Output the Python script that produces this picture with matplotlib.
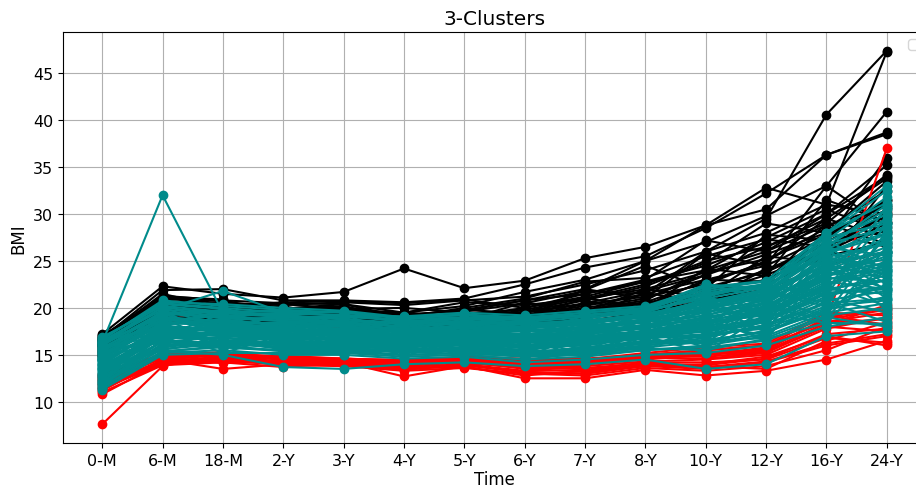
import matplotlib
matplotlib.use("Agg")
import matplotlib.pyplot as plt

time_labels = ["0-M", "6-M", "18-M", "2-Y", "3-Y", "4-Y", "5-Y",
               "6-Y", "7-Y", "8-Y", "10-Y", "12-Y", "16-Y", "24-Y"]

# cluster 1: high BMI trajectories (black)
black_bmi = [
    [16.5, 21.0, 20.5, 20.3, 20.6, 20.3, 20.8, 21.2, 22.5, 24.0, 26.0, 29.5, 40.6, 47.4],
    [17.2, 22.3, 21.5, 21.1, 21.7, 24.2, 22.1, 22.9, 25.3, 26.5, 28.8, 32.8, 31.0, 47.3],
    [16.8, 21.9, 22.0, 20.8, 20.8, 20.6, 21.0, 22.5, 24.3, 25.5, 28.5, 32.2, 36.3, 38.7],
    [17.0, 21.3, 20.8, 20.5, 20.4, 19.5, 20.2, 21.7, 23.0, 25.0, 27.0, 29.8, 33.0, 40.9],
    [16.3, 20.5, 20.2, 20.0, 20.0, 19.2, 19.8, 20.8, 22.0, 25.0, 28.8, 30.5, 36.3, 38.5],
    [15.8, 20.0, 19.6, 19.5, 19.3, 18.8, 19.1, 20.0, 21.5, 22.8, 24.5, 27.0, 30.0, 35.2],
    [16.1, 19.8, 20.5, 19.8, 19.6, 18.5, 19.4, 19.8, 21.0, 22.5, 25.0, 26.5, 29.0, 34.2],
    [15.5, 19.5, 19.8, 19.3, 19.0, 18.3, 18.9, 19.5, 20.5, 21.8, 23.5, 25.7, 28.0, 33.5],
    [16.7, 21.5, 20.0, 19.9, 20.2, 18.8, 19.6, 20.5, 21.8, 21.5, 23.0, 24.5, 27.5, 31.5],
    [15.2, 19.3, 19.0, 18.8, 18.7, 18.2, 18.4, 18.8, 19.6, 20.5, 22.0, 24.0, 27.0, 30.5],
    [16.0, 20.3, 19.4, 19.2, 19.4, 18.6, 18.8, 19.2, 20.0, 21.0, 23.5, 26.5, 29.5, 27.5],
    [14.8, 19.0, 18.8, 18.5, 18.4, 17.8, 18.0, 18.5, 19.2, 20.0, 21.5, 23.5, 26.0, 29.0],
    [16.4, 20.8, 20.3, 19.6, 19.8, 19.0, 19.3, 19.5, 20.4, 21.2, 22.5, 25.0, 28.5, 32.5],
    [15.6, 19.7, 19.2, 19.0, 18.9, 18.0, 18.6, 19.0, 19.8, 20.8, 24.0, 27.5, 30.5, 28.0],
    [17.1, 20.6, 19.9, 19.4, 19.5, 18.4, 19.0, 19.3, 20.2, 21.5, 26.0, 28.0, 31.0, 30.0],
    [15.0, 18.8, 18.5, 18.3, 18.2, 17.6, 17.9, 18.2, 19.0, 19.8, 21.0, 22.5, 25.5, 27.0],
    [16.6, 20.1, 19.5, 19.7, 19.8, 19.5, 20.6, 20.3, 21.0, 22.0, 23.8, 25.2, 27.8, 31.0],
    [15.9, 19.4, 19.1, 18.9, 19.1, 18.1, 18.5, 19.1, 19.8, 20.6, 22.8, 24.8, 29.5, 33.8],
    [16.9, 21.1, 20.7, 19.9, 20.4, 19.0, 20.0, 21.0, 22.8, 23.2, 25.5, 27.3, 26.5, 29.8],
    [15.4, 19.1, 18.7, 18.6, 18.6, 17.9, 18.3, 18.6, 19.4, 20.2, 22.2, 23.8, 26.8, 28.2],
    [16.2, 19.9, 19.7, 19.6, 19.3, 18.7, 18.9, 19.6, 20.8, 22.3, 24.8, 29.0, 28.0, 26.5],
    [14.6, 18.5, 18.3, 18.1, 18.0, 17.5, 17.7, 17.9, 18.6, 19.5, 20.8, 22.0, 24.5, 26.0],
    [16.0, 20.2, 19.9, 19.8, 20.0, 19.3, 19.7, 20.8, 21.5, 23.0, 27.2, 26.0, 30.0, 34.0],
    [15.3, 18.9, 18.9, 18.7, 18.5, 17.7, 18.1, 18.4, 19.0, 19.7, 21.8, 23.0, 26.2, 31.5],
    [16.5, 20.4, 20.1, 20.6, 20.7, 20.5, 20.9, 20.0, 21.2, 22.8, 24.0, 26.0, 28.8, 30.8],
    [15.7, 19.2, 20.4, 19.1, 19.5, 18.9, 18.2, 19.0, 21.0, 20.2, 23.0, 22.8, 29.0, 26.8],
    [16.8, 20.9, 19.3, 20.2, 18.8, 19.6, 18.7, 20.6, 19.6, 22.0, 21.2, 25.5, 24.8, 33.0],
    [15.1, 19.6, 18.6, 19.4, 19.2, 18.2, 19.4, 18.2, 20.6, 19.9, 24.2, 23.4, 31.5, 29.2],
    [16.3, 21.2, 20.9, 19.0, 20.1, 18.4, 19.8, 19.4, 21.9, 24.5, 22.0, 27.8, 27.2, 36.0],
    [14.9, 18.7, 19.3, 18.4, 18.9, 17.9, 18.7, 19.8, 19.1, 21.6, 20.6, 24.2, 26.0, 30.2],
    [16.6, 20.7, 20.0, 20.4, 19.9, 20.0, 19.5, 18.9, 22.0, 21.0, 25.8, 24.5, 33.0, 28.6],
]

# cluster 2: low BMI trajectories (red)
red_bmi = [
    [7.6, 13.8, 15.0, 14.5, 14.3, 14.0, 14.2, 14.0, 14.0, 14.5, 15.0, 15.8, 18.7, 37.0],
    [10.8, 14.2, 14.8, 14.6, 14.5, 13.8, 14.3, 13.5, 13.2, 13.8, 13.5, 14.2, 16.0, 17.0],
    [11.2, 14.5, 13.5, 14.0, 14.2, 12.7, 13.8, 12.5, 12.5, 13.4, 12.8, 13.3, 14.5, 16.5],
    [12.0, 14.8, 15.1, 14.8, 14.6, 14.4, 14.7, 14.3, 14.5, 15.0, 15.5, 16.0, 18.5, 19.5],
    [11.5, 14.0, 14.5, 14.2, 14.0, 13.5, 13.9, 13.2, 13.0, 13.8, 14.0, 14.8, 17.0, 16.0],
    [12.5, 15.0, 15.2, 14.7, 14.4, 14.2, 14.8, 14.5, 14.4, 14.8, 15.3, 15.5, 19.0, 20.0],
    [11.8, 14.3, 14.6, 13.9, 13.8, 13.3, 13.6, 13.0, 12.8, 13.6, 13.3, 13.8, 15.5, 18.0],
    [12.8, 14.9, 14.9, 14.5, 14.6, 14.3, 14.5, 14.1, 14.2, 14.9, 14.8, 15.3, 18.0, 17.5],
    [11.0, 13.9, 14.2, 13.7, 14.1, 13.6, 13.7, 12.8, 13.3, 14.0, 13.8, 13.5, 16.5, 18.5],
    [12.2, 14.6, 14.4, 14.3, 14.3, 14.1, 14.4, 13.8, 13.8, 14.3, 14.5, 15.0, 17.8, 19.0],
    [13.0, 15.0, 15.3, 14.6, 14.5, 14.5, 14.6, 14.4, 14.6, 15.0, 15.5, 16.0, 19.2, 18.2],
    [11.4, 14.1, 14.3, 14.0, 13.9, 13.7, 14.0, 13.3, 13.4, 14.2, 14.2, 14.5, 16.8, 16.3],
    [12.6, 14.7, 15.0, 14.8, 14.4, 14.0, 14.1, 13.7, 14.0, 14.6, 15.1, 15.6, 18.8, 19.8],
    [11.9, 14.4, 14.7, 14.1, 13.9, 13.9, 14.2, 13.6, 13.6, 14.1, 13.9, 14.6, 17.2, 17.8],
    [12.3, 14.8, 14.1, 14.4, 14.2, 13.8, 14.4, 13.9, 14.1, 14.7, 14.6, 15.2, 18.2, 20.3],
    [12.9, 15.1, 15.0, 14.9, 14.6, 14.4, 14.8, 14.6, 14.5, 15.2, 15.8, 16.2, 19.5, 19.2],
    [11.6, 14.2, 14.8, 14.3, 14.0, 13.4, 13.9, 13.1, 13.0, 13.9, 13.7, 14.3, 16.2, 17.2],
    [12.4, 14.6, 14.9, 14.6, 14.3, 14.2, 14.5, 14.2, 14.3, 14.8, 15.0, 15.4, 18.4, 18.8],
]

# cluster 3: middle BMI trajectories (teal)
teal_bmi = [
    [16.3, 32.0, 19.5, 19.0, 18.5, 17.5, 18.0, 17.8, 18.5, 19.2, 20.5, 22.0, 24.5, 26.0],
    [14.5, 19.8, 21.8, 19.5, 18.0, 17.0, 17.5, 17.2, 17.8, 18.5, 22.5, 21.0, 23.5, 25.5],
    [13.5, 15.5, 15.0, 13.7, 13.5, 14.0, 14.2, 13.8, 14.0, 14.5, 13.5, 14.0, 17.0, 17.5],
    [12.0, 16.0, 16.2, 15.8, 15.5, 15.0, 15.2, 14.8, 15.0, 15.5, 16.0, 17.0, 19.5, 20.5],
    [15.5, 19.0, 18.5, 18.2, 18.0, 17.5, 17.8, 17.5, 18.0, 18.8, 20.0, 21.5, 25.0, 27.0],
    [13.0, 17.5, 17.0, 16.8, 16.5, 16.0, 16.2, 15.8, 16.0, 16.8, 17.5, 18.5, 21.5, 22.0],
    [16.8, 20.5, 20.0, 19.5, 19.2, 18.5, 18.8, 18.5, 19.0, 19.5, 21.5, 22.5, 27.5, 29.0],
    [11.5, 15.2, 15.5, 15.0, 15.0, 14.6, 14.8, 14.2, 14.5, 15.0, 15.2, 16.0, 18.0, 19.0],
    [14.0, 18.0, 17.5, 17.2, 17.0, 16.5, 16.8, 16.5, 17.2, 17.8, 19.0, 20.0, 23.0, 24.5],
    [15.0, 17.2, 18.0, 17.5, 17.8, 17.0, 17.3, 16.8, 16.5, 17.0, 18.0, 19.5, 22.0, 23.0],
    [12.5, 16.5, 16.0, 16.5, 16.0, 15.5, 15.8, 15.2, 15.5, 16.2, 17.0, 18.0, 20.5, 21.0],
    [16.0, 19.5, 19.0, 18.8, 18.5, 18.0, 18.3, 18.0, 18.5, 19.0, 20.5, 21.8, 26.0, 28.0],
    [13.5, 17.0, 16.8, 16.2, 16.2, 15.8, 16.5, 16.0, 16.8, 17.5, 18.5, 19.2, 22.5, 25.0],
    [14.8, 18.5, 18.0, 17.8, 17.5, 17.2, 17.0, 17.0, 17.5, 18.2, 19.5, 20.8, 24.0, 26.5],
    [11.8, 15.8, 16.5, 16.0, 15.8, 15.2, 15.5, 15.0, 15.8, 16.5, 16.5, 17.5, 20.0, 22.5],
    [16.5, 20.0, 19.5, 19.8, 19.5, 19.0, 19.2, 18.8, 19.5, 20.0, 22.0, 22.8, 26.5, 31.0],
    [13.2, 16.8, 17.2, 17.0, 16.8, 16.2, 16.0, 15.5, 16.2, 17.2, 18.2, 19.8, 23.5, 24.0],
    [15.2, 18.2, 18.8, 18.0, 17.2, 16.8, 17.5, 17.2, 17.8, 18.5, 19.8, 21.2, 25.5, 23.5],
    [12.2, 16.2, 15.8, 15.5, 16.2, 15.5, 15.0, 14.5, 15.2, 16.0, 16.8, 18.2, 21.0, 19.5],
    [14.2, 17.8, 17.8, 17.5, 17.2, 16.8, 17.0, 16.8, 17.0, 17.5, 18.8, 20.5, 24.5, 27.5],
    [16.2, 19.2, 19.8, 19.0, 18.8, 18.2, 18.5, 18.2, 18.8, 19.8, 21.0, 22.2, 27.0, 30.0],
    [12.8, 17.2, 16.5, 16.0, 15.8, 15.8, 16.0, 15.5, 16.5, 17.0, 17.8, 18.8, 22.0, 21.5],
    [15.8, 18.8, 18.2, 18.5, 18.2, 17.8, 18.0, 17.8, 18.2, 19.2, 20.8, 21.0, 24.8, 26.0],
    [13.8, 17.5, 17.3, 16.5, 16.8, 16.5, 16.8, 16.2, 17.0, 17.2, 18.0, 19.5, 23.2, 22.8],
    [11.3, 15.0, 15.2, 15.2, 15.2, 14.8, 15.0, 14.5, 14.8, 15.5, 15.8, 16.5, 19.0, 18.0],
    [16.6, 20.8, 20.2, 19.8, 19.0, 18.8, 19.0, 19.0, 19.2, 19.8, 21.8, 22.5, 28.0, 33.0],
    [14.6, 18.3, 18.5, 17.8, 17.5, 17.5, 17.6, 17.5, 17.8, 18.5, 19.2, 21.0, 25.2, 24.5],
    [13.3, 16.8, 16.8, 16.6, 16.2, 16.2, 16.3, 15.8, 16.2, 16.8, 17.2, 18.5, 21.8, 23.5],
    [15.3, 19.0, 18.6, 18.3, 18.3, 17.6, 18.2, 17.8, 18.4, 19.0, 20.2, 21.5, 26.2, 29.5],
    [12.4, 16.5, 16.3, 15.8, 15.6, 15.3, 15.6, 15.2, 15.8, 16.2, 17.2, 17.8, 20.2, 20.8],
    [14.4, 17.6, 17.6, 17.2, 17.0, 16.6, 16.6, 16.6, 17.4, 18.0, 19.0, 20.2, 23.8, 25.8],
    [16.0, 19.6, 19.2, 19.2, 18.8, 18.4, 18.6, 18.4, 18.6, 19.4, 20.6, 22.0, 26.8, 28.5],
    [13.6, 17.4, 17.0, 16.8, 16.6, 16.0, 16.4, 16.0, 16.6, 17.4, 18.4, 19.6, 22.8, 22.0],
    [15.6, 18.6, 19.2, 18.6, 18.4, 18.0, 17.8, 17.6, 18.0, 18.8, 19.6, 20.8, 24.2, 27.2],
    [12.6, 16.0, 16.6, 16.2, 16.0, 15.6, 15.8, 15.4, 15.6, 16.4, 16.2, 17.2, 20.8, 21.8],
    [14.9, 18.4, 18.2, 18.0, 17.8, 17.4, 17.2, 17.0, 17.6, 18.6, 20.0, 21.4, 24.6, 23.2],
    [16.9, 20.2, 19.6, 19.6, 19.6, 18.8, 19.3, 18.6, 19.3, 19.6, 21.2, 22.6, 27.2, 31.8],
    [13.9, 17.0, 17.4, 17.0, 17.2, 16.4, 16.7, 16.4, 16.8, 17.6, 18.6, 19.9, 23.3, 26.0],
    [11.6, 15.4, 15.8, 15.4, 15.3, 15.0, 15.2, 14.8, 15.3, 15.8, 16.4, 16.8, 19.2, 20.0],
    [15.7, 19.4, 18.9, 18.6, 18.6, 18.3, 18.4, 18.2, 18.6, 19.3, 20.4, 21.6, 25.8, 27.8],
    [13.1, 16.4, 16.1, 16.4, 16.4, 15.9, 16.1, 15.9, 16.4, 16.9, 17.6, 18.6, 21.2, 23.0],
    [14.3, 17.9, 17.9, 17.6, 17.4, 17.0, 17.3, 17.1, 17.4, 18.2, 19.2, 20.6, 24.0, 25.2],
    [16.4, 19.8, 19.4, 19.3, 19.3, 18.6, 18.9, 18.9, 19.1, 20.0, 21.6, 22.2, 26.6, 30.5],
    [12.1, 15.6, 16.4, 15.6, 15.4, 15.4, 15.4, 15.0, 15.4, 16.0, 16.6, 17.4, 19.8, 21.2],
    [15.1, 18.7, 18.4, 18.4, 18.0, 17.8, 17.9, 17.6, 17.9, 18.6, 19.9, 21.1, 25.4, 26.8],
    [13.7, 17.1, 17.1, 16.9, 16.6, 16.3, 16.5, 16.3, 16.9, 17.3, 18.3, 19.4, 22.6, 24.2],
    [14.1, 18.1, 17.7, 17.3, 17.3, 16.9, 17.1, 16.9, 17.3, 17.9, 18.9, 20.1, 23.6, 24.8],
    [16.7, 20.6, 20.4, 20.0, 19.7, 19.0, 19.3, 19.0, 19.5, 20.0, 22.5, 22.0, 27.8, 32.5],
    [14.7, 16.5, 18.4, 16.2, 17.8, 15.4, 17.6, 15.6, 17.9, 16.2, 19.2, 17.6, 25.4, 21.0],
    [12.3, 18.4, 15.8, 17.9, 15.6, 17.6, 15.4, 17.4, 15.4, 18.2, 16.2, 20.8, 19.2, 28.2],
    [15.9, 17.0, 19.4, 16.8, 18.8, 16.2, 18.6, 16.3, 18.9, 17.1, 20.8, 18.2, 26.6, 22.5],
    [11.9, 18.9, 16.1, 18.7, 15.9, 18.3, 15.8, 18.1, 15.8, 19.1, 16.6, 21.6, 20.2, 29.0],
    [13.4, 15.8, 17.6, 15.4, 17.4, 14.8, 17.0, 14.7, 17.4, 15.4, 18.8, 16.6, 24.6, 19.8],
    [16.1, 20.1, 17.6, 19.4, 16.8, 18.9, 16.6, 18.8, 16.9, 19.7, 18.0, 22.3, 21.8, 30.8],
    [12.9, 18.3, 15.6, 17.6, 15.3, 17.2, 15.0, 16.9, 15.0, 17.7, 15.8, 20.0, 18.8, 26.5],
    [15.4, 16.3, 18.6, 16.0, 18.5, 15.8, 18.3, 15.5, 18.7, 16.4, 20.5, 17.4, 26.2, 21.8],
    [14.6, 19.7, 16.7, 18.6, 16.1, 17.9, 16.3, 18.0, 16.1, 18.8, 17.3, 21.6, 20.6, 27.6],
    [13.0, 17.3, 18.2, 16.4, 17.8, 15.2, 16.9, 15.1, 17.8, 16.6, 18.2, 17.1, 22.6, 23.8],
    [16.5, 18.0, 19.8, 17.6, 19.3, 17.0, 18.9, 16.8, 19.3, 17.6, 21.3, 19.0, 27.2, 24.0],
    [11.4, 17.6, 15.2, 17.1, 15.0, 16.8, 14.8, 16.6, 14.8, 17.0, 15.2, 19.4, 18.4, 25.0],
    [14.0, 19.4, 17.2, 18.5, 17.0, 18.3, 17.2, 18.4, 17.0, 19.4, 18.0, 22.2, 21.4, 29.8],
    [15.2, 16.8, 17.6, 16.4, 16.2, 16.6, 16.0, 16.4, 16.2, 16.8, 17.0, 18.2, 20.6, 18.5],
    [12.7, 16.4, 16.9, 17.6, 17.2, 17.2, 17.4, 17.5, 17.8, 18.0, 19.6, 20.4, 24.4, 22.0],
    [16.4, 19.0, 17.8, 17.6, 17.8, 16.5, 16.8, 16.6, 17.4, 17.2, 18.6, 19.8, 22.2, 26.2],
    [13.9, 18.2, 19.4, 19.4, 19.6, 18.4, 18.9, 18.7, 19.2, 19.6, 21.4, 22.4, 26.0, 23.8],
    [11.7, 16.6, 15.9, 16.2, 15.6, 15.6, 15.4, 14.9, 15.6, 16.3, 16.3, 17.6, 19.6, 24.0],
    [15.6, 17.6, 18.1, 17.9, 18.1, 17.3, 17.6, 17.9, 18.3, 19.1, 20.9, 20.7, 25.6, 28.8],
    [12.2, 17.0, 17.5, 16.6, 16.9, 16.7, 16.9, 16.7, 16.7, 17.1, 17.8, 19.0, 22.4, 20.2],
    [14.4, 18.9, 18.6, 19.1, 18.9, 17.9, 18.6, 18.3, 18.2, 18.4, 20.6, 21.8, 26.4, 25.6],
    [13.6, 15.6, 16.2, 15.8, 16.6, 16.9, 16.2, 15.7, 16.0, 17.6, 17.4, 18.8, 21.6, 22.2],
    [16.3, 20.4, 19.9, 18.9, 19.2, 19.1, 19.5, 19.2, 19.7, 20.2, 22.2, 22.9, 28.0, 31.2],
    [12.0, 15.3, 16.0, 15.4, 15.7, 15.3, 15.7, 15.1, 15.1, 15.7, 15.5, 16.7, 18.4, 18.3],
]

fig = plt.figure(figsize=(9.16, 4.89), dpi=100)
ax = fig.add_axes([63 / 916, 45 / 489, 863 / 916, 411 / 489])

for row in black_bmi:
    ax.plot(time_labels, row, marker="o", color="black")
for row in red_bmi:
    ax.plot(time_labels, row, marker="o", color="red")
for row in teal_bmi:
    ax.plot(time_labels, row, marker="o", color="darkcyan")

ax.set_title("3-Clusters", fontsize=14.5)
ax.set_xlabel("Time", fontsize=12, labelpad=2)
ax.set_ylabel("BMI", fontsize=12)
ax.tick_params(labelsize=11.5)
ax.grid(True)
ax.legend(loc="upper right")

fig.savefig("out.png", dpi=100)
